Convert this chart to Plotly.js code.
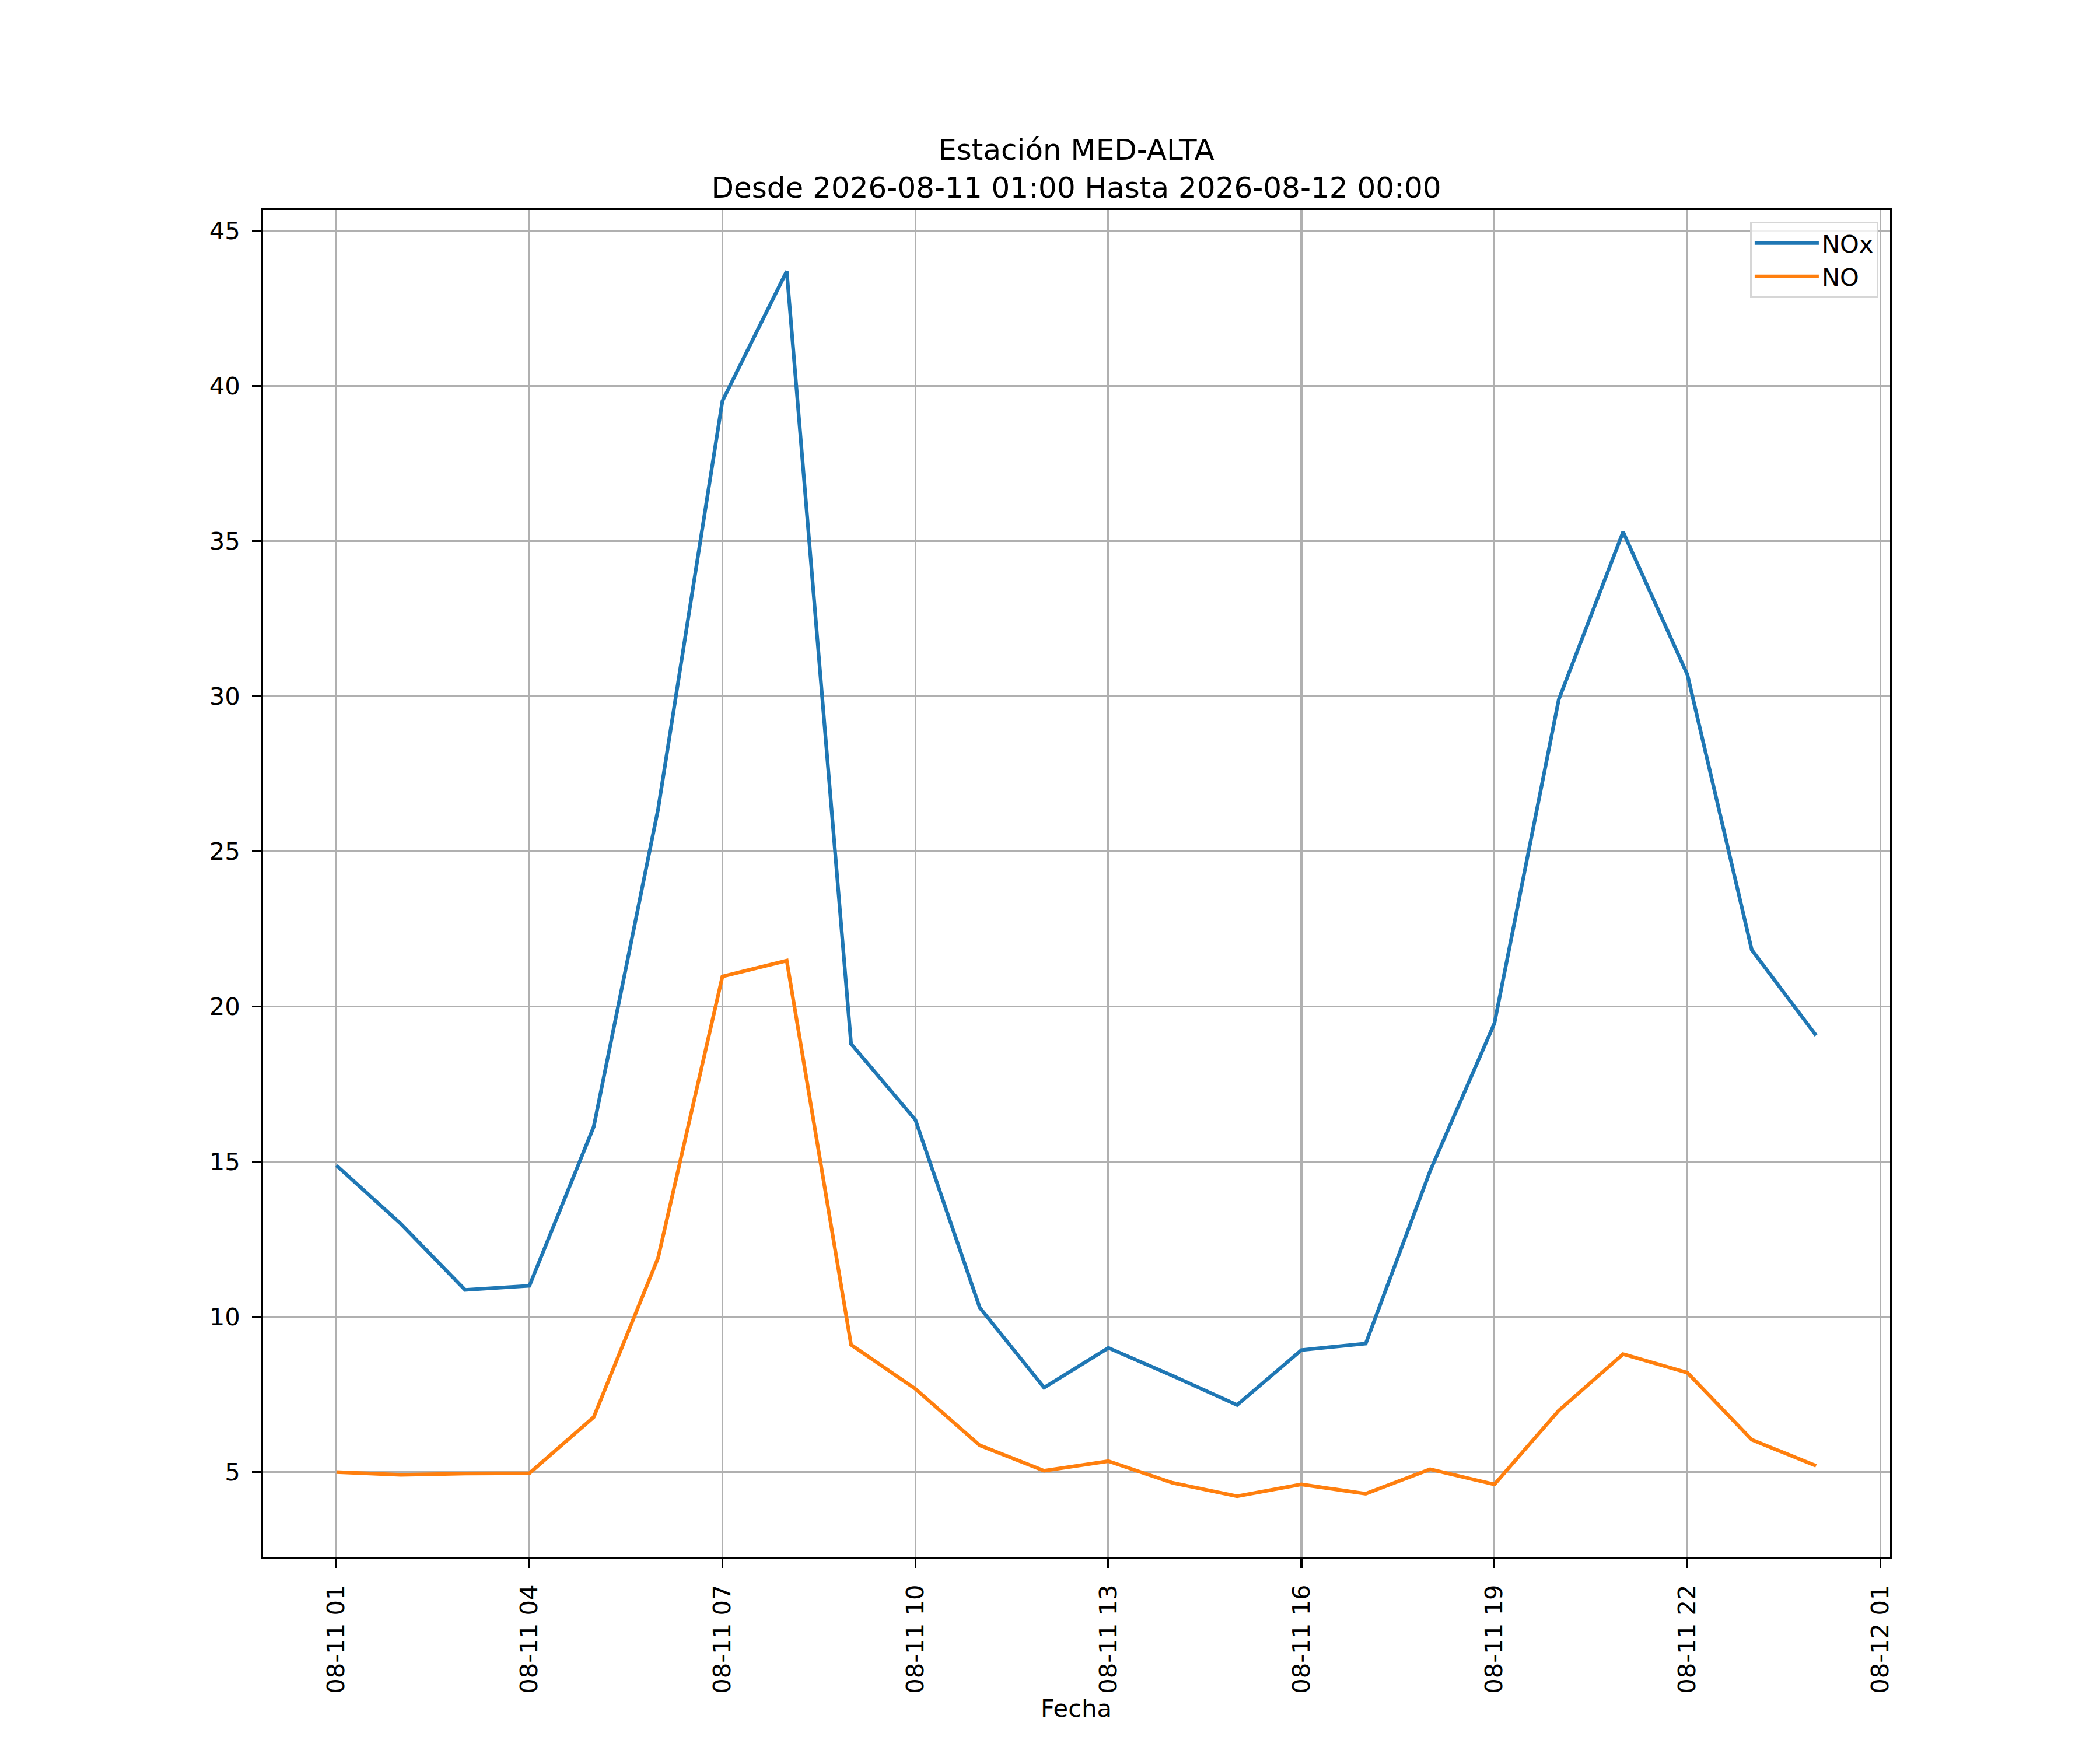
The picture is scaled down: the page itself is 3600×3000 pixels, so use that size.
<!DOCTYPE html>
<html>
<head>
<meta charset="utf-8">
<script src="https://cdn.plot.ly/plotly-3.0.1.min.js"></script>
<style>
  html, body { margin: 0; padding: 0; background: #ffffff; }
  #grafico { width: 3600px; height: 3000px; }
</style>
</head>
<body>
<div id="grafico"></div>
<script>
// Datos horarios de la estación
const fechas = [
    '2026-08-11 01:00', '2026-08-11 02:00', '2026-08-11 03:00', '2026-08-11 04:00',
    '2026-08-11 05:00', '2026-08-11 06:00', '2026-08-11 07:00', '2026-08-11 08:00',
    '2026-08-11 09:00', '2026-08-11 10:00', '2026-08-11 11:00', '2026-08-11 12:00',
    '2026-08-11 13:00', '2026-08-11 14:00', '2026-08-11 15:00', '2026-08-11 16:00',
    '2026-08-11 17:00', '2026-08-11 18:00', '2026-08-11 19:00', '2026-08-11 20:00',
    '2026-08-11 21:00', '2026-08-11 22:00', '2026-08-11 23:00', '2026-08-12 00:00'
];
const valoresNOx = [
    14.88, 13.0, 10.87, 11.0, 16.13, 26.36, 39.52, 43.7,
    18.8, 16.35, 10.3, 7.72, 9.0, 8.1, 7.16, 8.93,
    9.14, 14.7, 19.46, 29.9, 35.3, 30.7, 21.83, 19.07
];
const valoresNO = [
    5.0, 4.91, 4.95, 4.96, 6.77, 11.9, 20.97, 21.48,
    9.1, 7.68, 5.86, 5.04, 5.35, 4.65, 4.22, 4.6,
    4.3, 5.09, 4.6, 6.98, 8.8, 8.2, 6.04, 5.2
];
const nombresSeries = ['NOx', 'NO'];
const coloresSeries = ['#1f77b4', '#ff7f0e'];

const tituloGrafico = 'Estación MED-ALTA<br>Desde 2026-08-11 01:00 Hasta 2026-08-12 00:00';

// Tamaños equivalentes a matplotlib a 300 dpi
const px = pt => pt * 300 / 72;
const fuente = 'DejaVu Sans, sans-serif';

const trazas = [valoresNOx, valoresNO].map((valores, i) => ({
    x: fechas,
    y: valores,
    type: 'scatter',
    mode: 'lines',
    name: nombresSeries[i],
    line: { color: coloresSeries[i], width: px(1.5) }
}));

// Margen del 5% como en matplotlib
const todos = valoresNOx.concat(valoresNO);
const yMin = Math.min(...todos), yMax = Math.max(...todos);
const yPad = (yMax - yMin) * 0.05;
const t0 = new Date('2026-08-11T01:00:00Z').getTime();
const t1 = new Date('2026-08-12T00:00:00Z').getTime();
const tPad = (t1 - t0) * 0.05;
const iso = ms => new Date(ms).toISOString().replace('T', ' ').replace('Z', '');

const ejeBase = {
    showline: true,
    linecolor: '#000000',
    linewidth: px(0.8),
    mirror: true,
    ticks: 'outside',
    ticklen: px(3.5),
    tickwidth: px(0.8),
    tickcolor: '#000000',
    showgrid: true,
    gridcolor: '#b0b0b0',
    gridwidth: px(0.8),
    zeroline: false,
    tickfont: { family: fuente, size: px(10), color: '#000000' }
};

const layout = {
    width: 3600,
    height: 3000,
    paper_bgcolor: '#ffffff',
    plot_bgcolor: '#ffffff',
    margin: { l: 450, r: 360, t: 360, b: 330 },
    font: { family: fuente, size: px(10), color: '#000000' },
    title: {
        text: tituloGrafico,
        font: { family: fuente, size: px(12), color: '#000000' },
        x: 0.5,
        xref: 'paper',
        xanchor: 'center',
        y: 1 - 274 / 3000,
        yref: 'container',
        yanchor: 'middle'
    },
    xaxis: {
        ...ejeBase,
        type: 'date',
        range: [iso(t0 - tPad), iso(t1 + tPad)],
        tick0: '2026-08-11 01:00',
        dtick: 3 * 3600 * 1000,
        tickformat: '%m-%d %H',
        tickangle: -90,
        ticklabelstandoff: 12,
        title: {
            text: 'Fecha',
            font: { family: fuente, size: px(10), color: '#000000' },
            standoff: 10
        }
    },
    yaxis: {
        ...ejeBase,
        range: [yMin - yPad, yMax + yPad],
        tick0: 0,
        dtick: 5,
        ticklabelstandoff: 12
    },
    showlegend: true,
    legend: {
        x: 0.9928,
        xanchor: 'right',
        y: 0.9913,
        yanchor: 'top',
        itemwidth: 110,
        bgcolor: 'rgba(255,255,255,0.8)',
        bordercolor: '#d6d6d6',
        borderwidth: 3,
        font: { family: fuente, size: px(10), color: '#000000' }
    }
};

Plotly.newPlot('grafico', trazas, layout, { displayModeBar: false, staticPlot: true });
</script>
</body>
</html>
